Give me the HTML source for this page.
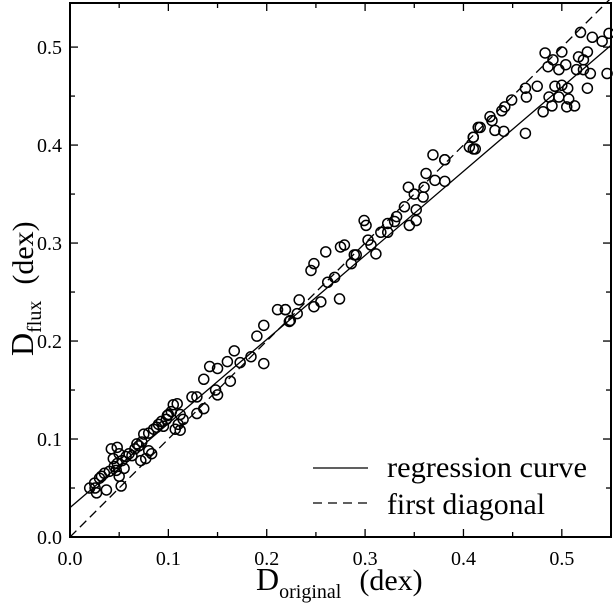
<!DOCTYPE html>
<html><head><meta charset="utf-8"><style>
body{margin:0;background:#fff}
svg text{font-family:"Liberation Serif",serif;fill:#000}
</style></head><body>
<svg id="chart" width="613" height="604" xmlns="http://www.w3.org/2000/svg">
<rect x="0" y="0" width="613" height="604" fill="#fff"/>
<g id="plot"></g>
</svg>
<script>
const xs=[0.02,0.025,0.027,0.03,0.032,0.035,0.037,0.04,0.042,0.044,0.045,0.047,0.048,0.05,0.05,0.052,0.053,0.055,0.057,0.06,0.063,0.066,0.068,0.07,0.072,0.073,0.075,0.077,0.08,0.083,0.085,0.088,0.09,0.093,0.095,0.098,0.1,0.103,0.105,0.107,0.11,0.112,0.115,
0.0255,0.048,0.08,0.109,0.099,0.112,0.124,0.136,0.142,0.15,0.15,0.16,0.167,0.173,0.184,0.197,0.19,0.197,0.211,0.219,0.223,0.231,0.136,0.129,0.163,0.148,0.129,
0.26,0.274,0.248,0.245,0.275,0.279,0.299,0.301,0.311,0.289,0.316,0.323,0.332,0.344,0.345,0.352,0.35,0.352,0.359,0.362,0.369,0.381,0.381,0.371,0.41,0.41,0.415,0.219,0.233,0.248,0.255,0.262,0.269,0.286,0.291,0.303,0.306,0.323,0.33,0.34,0.36,0.224,
0.519,0.531,0.548,0.541,0.483,0.491,0.5,0.486,0.497,0.504,0.517,0.526,0.522,0.515,0.522,0.529,0.546,0.463,0.475,0.464,0.493,0.5,0.506,0.526,0.487,0.497,0.507,0.49,0.505,0.513,0.481,0.449,0.442,0.439,0.427,0.429,0.417,0.41,0.406,0.412,0.432,0.441,0.463,0.381];
const ys=[0.05,0.055,0.045,0.06,0.062,0.065,0.048,0.067,0.09,0.08,0.072,0.068,0.075,0.085,0.062,0.052,0.078,0.07,0.082,0.085,0.083,0.09,0.095,0.093,0.078,0.097,0.105,0.08,0.088,0.085,0.11,0.112,0.115,0.118,0.113,0.12,0.125,0.128,0.135,0.11,0.115,0.125,0.12,
0.05,0.0915,0.106,0.136,0.124,0.109,0.143,0.161,0.174,0.172,0.145,0.179,0.19,0.178,0.184,0.177,0.205,0.216,0.232,0.232,0.22,0.228,0.131,0.126,0.159,0.15,0.143,
0.291,0.243,0.279,0.272,0.296,0.298,0.323,0.318,0.289,0.288,0.311,0.32,0.327,0.357,0.318,0.323,0.35,0.334,0.347,0.371,0.39,0.385,0.363,0.364,0.408,0.396,0.418,0.232,0.242,0.235,0.24,0.26,0.265,0.279,0.288,0.303,0.298,0.311,0.322,0.337,0.357,0.221,
0.515,0.51,0.514,0.506,0.494,0.487,0.495,0.48,0.477,0.482,0.49,0.495,0.487,0.477,0.477,0.473,0.473,0.458,0.46,0.449,0.46,0.461,0.458,0.458,0.449,0.449,0.447,0.44,0.439,0.44,0.434,0.446,0.439,0.435,0.429,0.425,0.418,0.408,0.398,0.396,0.415,0.414,0.412,0.385];
const xTicks=[0.0,0.1,0.2,0.3,0.4,0.5];
const yTicks=[0.0,0.1,0.2,0.3,0.4,0.5];
const regIntercept=0.03, regSlope=0.858;
const X0=70,X1=611,Y0=537,Y1=3,XMAX=0.55,YMAX=0.545;
const sx=v=>X0+v/XMAX*(X1-X0), sy=v=>Y0-v/YMAX*(Y0-Y1);
const NS="http://www.w3.org/2000/svg",g=document.getElementById('plot');
function mk(t,a){const e=document.createElementNS(NS,t);for(const k in a)e.setAttribute(k,a[k]);g.appendChild(e);return e;}
let l=mk('line',{x1:sx(0),y1:sy(0),x2:sx(XMAX),y2:sy(XMAX),stroke:'#000','stroke-width':1.3,'stroke-dasharray':'9,5'});


l=mk('line',{x1:sx(0),y1:sy(regIntercept),x2:sx(XMAX),y2:sy(regIntercept+regSlope*XMAX),stroke:'#000','stroke-width':1.3});


for(let i=0;i<xs.length;i++){
 const c=mk('circle',{cx:sx(xs[i]),cy:sy(ys[i]),r:5,fill:'none',stroke:'#000','stroke-width':1.5});
 
 
}
const fr=mk('rect',{x:X0,y:Y1,width:X1-X0,height:Y0-Y1,fill:'none',stroke:'#000','stroke-width':2});


for(let v=0;v<=XMAX+1e-9;v+=0.05){const x=sx(v),L=(Math.round(v*100)%10==0)?8:5;
 mk('line',{x1:x,y1:Y0,x2:x,y2:Y0-L,stroke:'#000','stroke-width':1.3});mk('line',{x1:x,y1:Y1,x2:x,y2:Y1+L,stroke:'#000','stroke-width':1.3});}
for(let v=0;v<=YMAX+1e-9;v+=0.05){const y=sy(v),L=(Math.round(v*100)%10==0)?8:5;
 mk('line',{x1:X0,y1:y,x2:X0+L,y2:y,stroke:'#000','stroke-width':1.3});mk('line',{x1:X1,y1:y,x2:X1-L,y2:y,stroke:'#000','stroke-width':1.3});}
xTicks.forEach(v=>{const t=mk('text',{x:sx(v),y:Y0+28,'font-size':20,'text-anchor':'middle'});t.textContent=v.toFixed(1);
 
 });
yTicks.forEach(v=>{const t=mk('text',{x:X0-8,y:sy(v)+7,'font-size':20,'text-anchor':'end'});t.textContent=v.toFixed(1);
 
 });
mk('line',{x1:313,y1:468,x2:368,y2:468,stroke:'#000','stroke-width':1.3});
mk('line',{x1:313,y1:503,x2:368,y2:503,stroke:'#000','stroke-width':1.3,'stroke-dasharray':'9,6'});
let t=mk('text',{x:387,y:477,'font-size':30,textLength:200,lengthAdjust:'spacingAndGlyphs'});t.textContent='regression curve';


t=mk('text',{x:387,y:514,'font-size':30,textLength:158,lengthAdjust:'spacingAndGlyphs'});t.textContent='first diagonal';


</script>
<svg style="position:absolute;left:0;top:0" width="613" height="604" xmlns="http://www.w3.org/2000/svg">
<text x="256" y="590" font-size="32" style="font-family:'Liberation Serif',serif">D<tspan font-size="20" dy="8">original</tspan><tspan dy="-8" dx="18" font-size="30">(dex)</tspan></text>
<text transform="translate(33,356) rotate(-90)" font-size="32" style="font-family:'Liberation Serif',serif">D<tspan font-size="20" dy="8">flux</tspan><tspan dy="-8" dx="16" font-size="30">(dex)</tspan></text>
</svg>
</body></html>
